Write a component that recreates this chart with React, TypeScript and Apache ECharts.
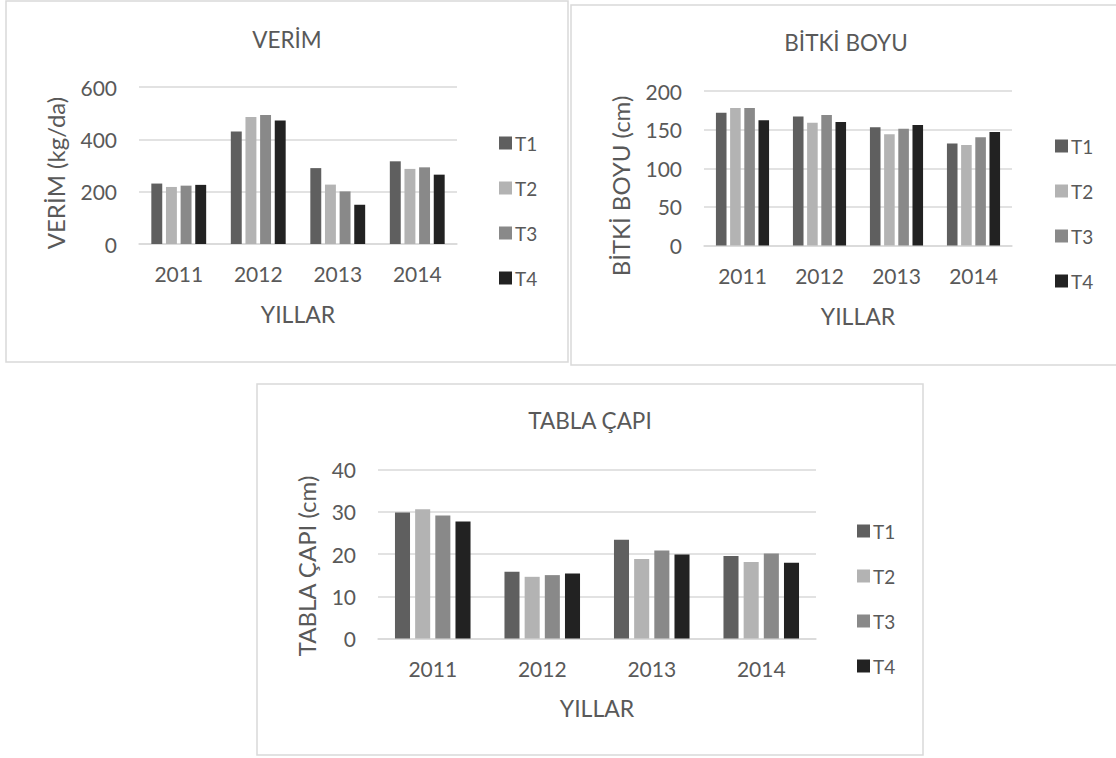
import React, { useEffect, useRef } from "react";
import * as echarts from "echarts";

const categories = ["2011", "2012", "2013", "2014"];
const seriesNames = ["T1", "T2", "T3", "T4"];
const seriesColors = ["#5f5f5f", "#b3b3b3", "#898989", "#222222"];

// VERİM (kg/da)
const verimT1 = [231, 430, 290, 316];
const verimT2 = [218, 485, 227, 287];
const verimT3 = [223, 493, 201, 293];
const verimT4 = [226, 472, 150, 265];

// BİTKİ BOYU (cm)
const boyT1 = [172, 167, 153, 132];
const boyT2 = [178, 159, 144, 130];
const boyT3 = [178, 169, 151, 140];
const boyT4 = [162, 160, 156, 147];

// TABLA ÇAPI (cm)
const capT1 = [29.8, 15.8, 23.4, 19.5];
const capT2 = [30.6, 14.6, 18.8, 18.1];
const capT3 = [29.1, 15.0, 20.8, 20.1];
const capT4 = [27.7, 15.4, 19.9, 17.9];

const chartTitles = ["VERİM", "BİTKİ BOYU", "TABLA ÇAPI"];
const yTitles = ["VERİM (kg/da)", "BİTKİ BOYU (cm)", "TABLA ÇAPI (cm)"];
const xTitle = "YILLAR";
const yMax = [600, 200, 40];
const yInterval = [200, 50, 10];

const FONT = 'Lato, "Open Sans", sans-serif';
const TEXT = "#595959";
const GRID_LINE = "#d9d9d9";

export default function App() {
  const ref = useRef<HTMLDivElement>(null);

  useEffect(() => {
    if (!ref.current) return;
    const chart = echarts.init(ref.current, undefined, { renderer: "svg" });

    const data = [
      [verimT1, verimT2, verimT3, verimT4],
      [boyT1, boyT2, boyT3, boyT4],
      [capT1, capT2, capT3, capT4],
    ];

    const grids = [
      { left: 139, top: 87, width: 318, height: 157 },
      { left: 704, top: 91, width: 308, height: 154.5 },
      { left: 378, top: 469.5, width: 438, height: 169 },
    ];

    const panels = [
      { x: 6, y: 1, w: 562, h: 361 },
      { x: 571, y: 5, w: 550, h: 360 },
      { x: 257, y: 384, w: 666, h: 371 },
    ];

    const titlePos = [
      { x: 287, y: 39 },
      { x: 846, y: 42.5 },
      { x: 590, y: 420 },
    ];
    const yTitlePos = [
      { x: 55, y: 173 },
      { x: 620, y: 186 },
      { x: 306, y: 566 },
    ];
    const xTitlePos = [
      { x: 298, y: 314 },
      { x: 858, y: 316 },
      { x: 597, y: 708 },
    ];
    const legendPos = [
      { left: 499, top: 132 },
      { left: 1055, top: 135 },
      { left: 857, top: 520 },
    ];

    const series: any[] = [];
    data.forEach((group, gi) => {
      group.forEach((vals, si) => {
        series.push({
          type: "bar",
          name: seriesNames[si],
          xAxisIndex: gi,
          yAxisIndex: gi,
          data: vals,
          itemStyle: { color: seriesColors[si] },
          barGap: "34%",
          barCategoryGap: "31%",
        });
      });
    });

    const graphic: any[] = [];
    panels.forEach((p) => {
      graphic.push({
        type: "rect",
        z: -10,
        shape: { x: p.x, y: p.y, width: p.w, height: p.h },
        style: { fill: "#ffffff", stroke: "#d9d9d9", lineWidth: 1.5 },
      });
    });
    titlePos.forEach((p, i) => {
      graphic.push({
        type: "text",
        x: p.x,
        y: p.y,
        style: {
          text: chartTitles[i],
          fontSize: 22.5,
          fontFamily: FONT,
          fill: TEXT,
          align: "center",
          verticalAlign: "middle",
        },
      });
    });
    yTitlePos.forEach((p, i) => {
      graphic.push({
        type: "text",
        x: p.x,
        y: p.y,
        rotation: Math.PI / 2,
        style: {
          text: yTitles[i],
          fontSize: 24,
          fontFamily: FONT,
          fill: TEXT,
          align: "center",
          verticalAlign: "middle",
        },
      });
    });
    xTitlePos.forEach((p) => {
      graphic.push({
        type: "text",
        x: p.x,
        y: p.y,
        style: {
          text: xTitle,
          fontSize: 23,
          fontFamily: FONT,
          fill: TEXT,
          align: "center",
          verticalAlign: "middle",
        },
      });
    });

    chart.setOption({
      animation: false,
      backgroundColor: "#ffffff",
      textStyle: { fontFamily: FONT },
      grid: grids.map((g) => ({ ...g, containLabel: false })),
      xAxis: grids.map((_, i) => ({
        type: "category",
        gridIndex: i,
        data: categories,
        axisLine: { show: true, lineStyle: { color: GRID_LINE, width: 1.5 } },
        axisTick: { show: false },
        axisLabel: { color: TEXT, fontSize: 21, fontFamily: FONT, margin: 19 },
      })),
      yAxis: grids.map((_, i) => ({
        type: "value",
        gridIndex: i,
        min: 0,
        max: yMax[i],
        interval: yInterval[i],
        axisLine: { show: false },
        axisTick: { show: false },
        axisLabel: { color: TEXT, fontSize: 21, fontFamily: FONT, margin: 22 },
        splitLine: { lineStyle: { color: GRID_LINE, width: 1.5 } },
      })),
      legend: legendPos.map((p) => ({
        data: seriesNames,
        orient: "vertical",
        left: p.left,
        top: p.top,
        padding: 0,
        icon: "rect",
        itemWidth: 13,
        itemHeight: 13,
        itemGap: 23,
        selectedMode: false,
        textStyle: { color: TEXT, fontSize: 19, fontFamily: FONT, lineHeight: 22, padding: [0, 0, 0, -2] },
      })),
      graphic,
      series,
    });

    return () => {
      chart.dispose();
    };
  }, []);

  return (
    <div
      ref={ref}
      style={{ position: "absolute", left: 0, top: 0, width: 1116, height: 758, background: "#fff" }}
    />
  );
}
